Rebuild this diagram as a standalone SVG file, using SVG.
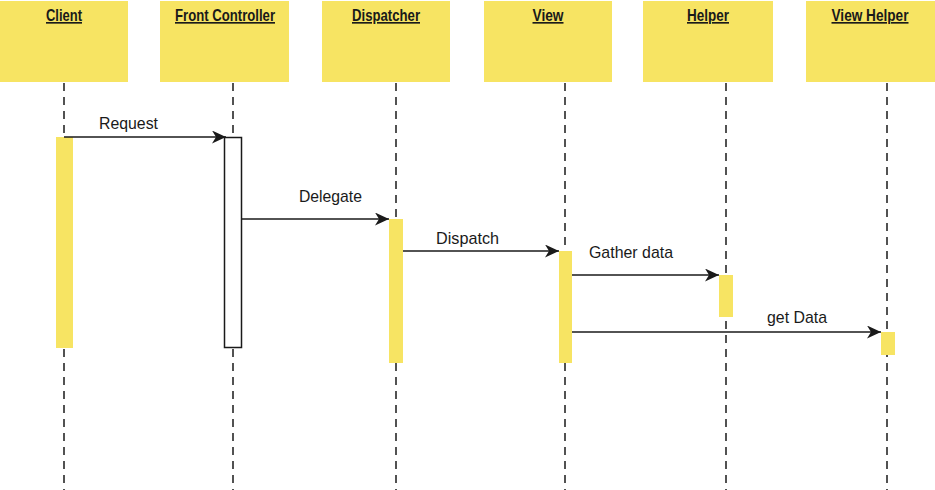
<svg xmlns="http://www.w3.org/2000/svg" width="935" height="490" viewBox="0 0 935 490">
<style>
.box{fill:#F7E463}
.hdr{font-family:"Liberation Sans",Arial,sans-serif;font-weight:bold;font-size:16.5px;fill:#1a1a1a;text-decoration:underline;text-anchor:middle}
.life{stroke:#1a1a1a;stroke-width:1.5;stroke-dasharray:8 6;fill:none}
.act{fill:#F7E463}
.actw{fill:#fff;stroke:#1a1a1a;stroke-width:1.5}
.msg{stroke:#1a1a1a;stroke-width:1.5;fill:none;marker-end:url(#ah)}
.lbl{font-family:"Liberation Sans",Arial,sans-serif;font-size:17px;fill:#1a1a1a}
</style>
<defs>
<marker id="ah" markerWidth="15" markerHeight="13" viewBox="0 0 15 13" refX="14" refY="6.5" orient="auto" markerUnits="userSpaceOnUse">
<path d="M0,0 L14,6.5 L0,13 L4,6.5 Z" fill="#1a1a1a"/>
</marker>
</defs>
<rect width="935" height="490" fill="#fff"/>
<g id="lifelines">
<line class="life" x1="64" y1="83" x2="64" y2="490"/>
<line class="life" x1="233" y1="83" x2="233" y2="490"/>
<line class="life" x1="396" y1="83" x2="396" y2="490"/>
<line class="life" x1="565" y1="83" x2="565" y2="490"/>
<line class="life" x1="726" y1="83" x2="726" y2="490"/>
<line class="life" x1="887" y1="83" x2="887" y2="490"/>
</g>
<g id="client">
<rect class="box" x="0" y="1" width="128" height="81"/>
<text class="hdr" x="64" y="21" textLength="36" lengthAdjust="spacingAndGlyphs">Client</text>
<rect class="act" x="56" y="137" width="17" height="211"/>
</g>
<g id="front-controller">
<rect class="box" x="160" y="1" width="129" height="81"/>
<text class="hdr" x="225" y="21" textLength="100" lengthAdjust="spacingAndGlyphs">Front Controller</text>
<rect class="actw" x="224.5" y="137.5" width="17" height="210"/>
</g>
<g id="dispatcher">
<rect class="box" x="322" y="1" width="128" height="81"/>
<text class="hdr" x="386" y="21" textLength="68" lengthAdjust="spacingAndGlyphs">Dispatcher</text>
<rect class="act" x="389" y="219" width="14" height="144"/>
</g>
<g id="view">
<rect class="box" x="484" y="1" width="128" height="81"/>
<text class="hdr" x="548" y="21" textLength="31" lengthAdjust="spacingAndGlyphs">View</text>
<rect class="act" x="559" y="251" width="13" height="112"/>
</g>
<g id="helper">
<rect class="box" x="643" y="1" width="130" height="81"/>
<text class="hdr" x="708" y="21" textLength="42" lengthAdjust="spacingAndGlyphs">Helper</text>
<rect class="act" x="719" y="275" width="14" height="42"/>
</g>
<g id="view-helper">
<rect class="box" x="806" y="1" width="129" height="81"/>
<text class="hdr" x="870" y="21" textLength="77" lengthAdjust="spacingAndGlyphs">View Helper</text>
<rect class="act" x="881" y="332" width="14" height="23"/>
</g>
<g id="connectors">
<line class="msg" x1="64" y1="137" x2="226" y2="137"/>
<line class="msg" x1="242" y1="219" x2="389" y2="219"/>
<line class="msg" x1="403" y1="251" x2="559" y2="251"/>
<line class="msg" x1="572" y1="275" x2="719" y2="275"/>
<line class="msg" x1="572" y1="332" x2="881" y2="332"/>
<text class="lbl" x="99" y="129" textLength="59" lengthAdjust="spacingAndGlyphs">Request</text>
<text class="lbl" x="299" y="202" textLength="63" lengthAdjust="spacingAndGlyphs">Delegate</text>
<text class="lbl" x="436" y="244" textLength="63" lengthAdjust="spacingAndGlyphs">Dispatch</text>
<text class="lbl" x="589" y="258" textLength="84" lengthAdjust="spacingAndGlyphs">Gather data</text>
<text class="lbl" x="767" y="323" textLength="60" lengthAdjust="spacingAndGlyphs">get Data</text>
</g>
</svg>
